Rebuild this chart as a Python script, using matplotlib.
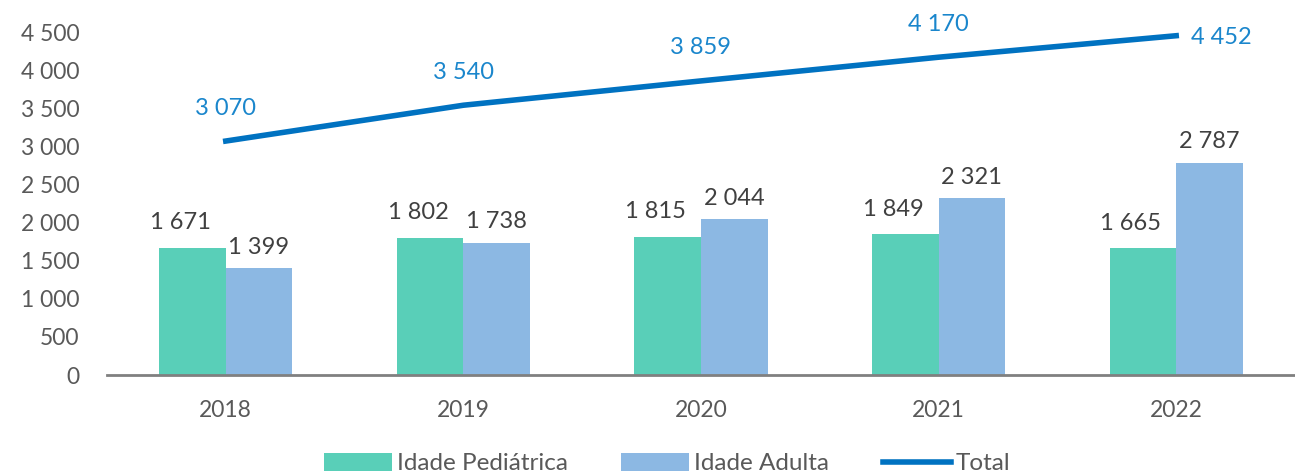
import matplotlib.pyplot as plt
import numpy as np

plt.rcParams['font.family'] = ['Lato', 'DejaVu Sans']

years = ['2018', '2019', '2020', '2021', '2022']
pediatrica = [1671, 1802, 1815, 1849, 1665]
adulta = [1399, 1738, 2044, 2321, 2787]
total = [3070, 3540, 3859, 4170, 4452]

GREEN = '#59CFB8'
BLUE = '#8CB8E3'
LINE = '#0072C1'
TXT = '#404040'


def fmt(v):
    return '{:,}'.format(v).replace(',', ' ')


fig = plt.figure(figsize=(12.95, 4.75), dpi=100)
ax = fig.add_axes([0.0826, 0.2105, 0.9174, 0.722])

x = np.arange(len(years))
w = 0.28
b1 = ax.bar(x - w / 2, pediatrica, w, color=GREEN, label='Idade Pediátrica')
b2 = ax.bar(x + w / 2, adulta, w, color=BLUE, label='Idade Adulta')
ln, = ax.plot(x, total, color=LINE, lw=4, label='Total')

for xi, v in zip(x, pediatrica):
    ax.annotate(fmt(v), (xi - w / 2, v), xytext=(-12, 25), textcoords='offset pixels',
                ha='center', va='center', fontsize=17, color=TXT)
for xi, v in zip(x, adulta):
    ax.annotate(fmt(v), (xi + w / 2, v), xytext=(0, 21), textcoords='offset pixels',
                ha='center', va='center', fontsize=17, color=TXT)
for i, (xi, v) in enumerate(zip(x, total)):
    off = (45, -2) if i == len(total) - 1 else (0, 33)
    ax.annotate(fmt(v), (xi, v), xytext=off, textcoords='offset pixels',
                ha='center', va='center', fontsize=17, color='#1A86CC',
                annotation_clip=False)

ax.set_xlim(-0.5, 4.5)
ax.set_ylim(0, 4500)
ax.set_yticks(np.arange(0, 4501, 500))
ax.set_yticklabels([fmt(v) for v in range(0, 4501, 500)])
ax.set_xticks(x)
ax.set_xticklabels(years)
ax.tick_params(length=0, labelsize=16.5, colors='#595959')
ax.tick_params(axis='y', pad=20)
ax.tick_params(axis='x', pad=18)
for s in ['top', 'right', 'left']:
    ax.spines[s].set_visible(False)
ax.spines['bottom'].set_color('#808080')
ax.spines['bottom'].set_linewidth(2)

leg = fig.legend(handles=[b1, b2, ln], loc='lower center', bbox_to_anchor=(0.515, -0.045),
                 ncol=3, frameon=False, fontsize=17.5, handlelength=2.8, handleheight=0.7,
                 handletextpad=0.2, columnspacing=2.2)
for t in leg.get_texts():
    t.set_color('#595959')

fig.savefig('out.png', dpi=100)
